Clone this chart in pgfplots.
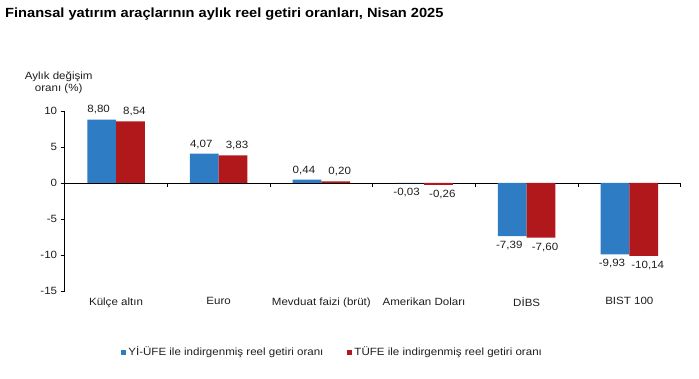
\documentclass[border=0pt]{standalone}
\usepackage{pgfplots}
\pgfplotsset{compat=1.18}
\usepackage{fontspec}
\setmainfont{Liberation Sans}[FakeStretch=1.1]
\definecolor{cblue}{RGB}{46,125,196}
\definecolor{cred}{RGB}{176,24,28}
\definecolor{txt}{RGB}{30,30,30}
\begin{document}
\begin{tikzpicture}[x=1pt,y=1pt]
\useasboundingbox (0,0) rectangle (699,378);
\node[anchor=west,inner sep=0pt,font=\bfseries\fontsize{13.3}{15}\selectfont] at (5,364) {Finansal yatırım araçlarının aylık reel getiri oranları, Nisan 2025};
\begin{axis}[
  at={(63,121)}, anchor=south west,
  scale only axis, width=616pt, height=180pt,
  xmin=-0.5, xmax=5.5, ymin=-15, ymax=10,
  axis y line=left, axis x line=middle,
  axis line style={-, black},
  ytick={-15,-10,-5,0,5,10},
  yticklabels={-15,-10,-5,0,5,10},
  yticklabel style={font=\fontsize{10.5}{13}\selectfont, text=txt},
  xtick={0.5,1.5,2.5,3.5,4.5,5.5}, xticklabels={},
  tick align=outside, major tick length=4pt,
  tick style={black, thin},
  ybar=0pt, bar width=0.28,
  nodes near coords, point meta=y,
  nodes near coords align={vertical},
  /pgf/number format/fixed, /pgf/number format/fixed zerofill,
  /pgf/number format/precision=2, /pgf/number format/use comma,
  /pgf/number format/assume math mode=true,
  every node near coord/.append style={font=\fontsize{10.5}{13}\selectfont, text=txt, inner ysep=5pt},
  clip=false,
  legend style={at={(0.435,-0.34)}, anchor=center, draw=none, fill=none,
    legend columns=2, font=\fontsize{10.5}{12}\selectfont, text=txt,
    /tikz/every even column/.append style={column sep=22pt}},
  legend image code/.code={\fill[#1,draw=none] (0pt,-2.5pt) rectangle (5pt,2.5pt);},
]
\addplot[fill=cblue, draw=none, every node near coord/.append style={xshift=-3pt}] table {
x y
0 8.80
1 4.07
2 0.44
3 -0.03
4 -7.39
5 -9.93
};
\addplot[fill=cred, draw=none, every node near coord/.append style={xshift=4pt}] table {
x y
0 8.54
1 3.83
2 0.20
3 -0.26
4 -7.60
5 -10.14
};
\legend{Yİ-ÜFE ile indirgenmiş reel getiri oranı, TÜFE ile indirgenmiş reel getiri oranı}
\begin{scope}[every node/.style={anchor=north, yshift=-3pt, font=\fontsize{10.5}{12}\selectfont, text=txt}]
\node at (axis cs:0,-15) {Külçe altın};
\node at (axis cs:1,-15) {Euro};
\node at (axis cs:2,-15) {Mevduat faizi (brüt)};
\node at (axis cs:3,-15) {Amerikan Doları};
\node at (axis cs:4,-15) {DİBS};
\node at (axis cs:5,-15) {BIST 100};
\end{scope}
\node[align=center, font=\fontsize{10.5}{12}\selectfont, text=txt, anchor=south] at ([xshift=-6pt,yshift=14pt]rel axis cs:0,1) {Aylık değişim\\oranı (\%)};
\end{axis}
\end{tikzpicture}
\end{document}
